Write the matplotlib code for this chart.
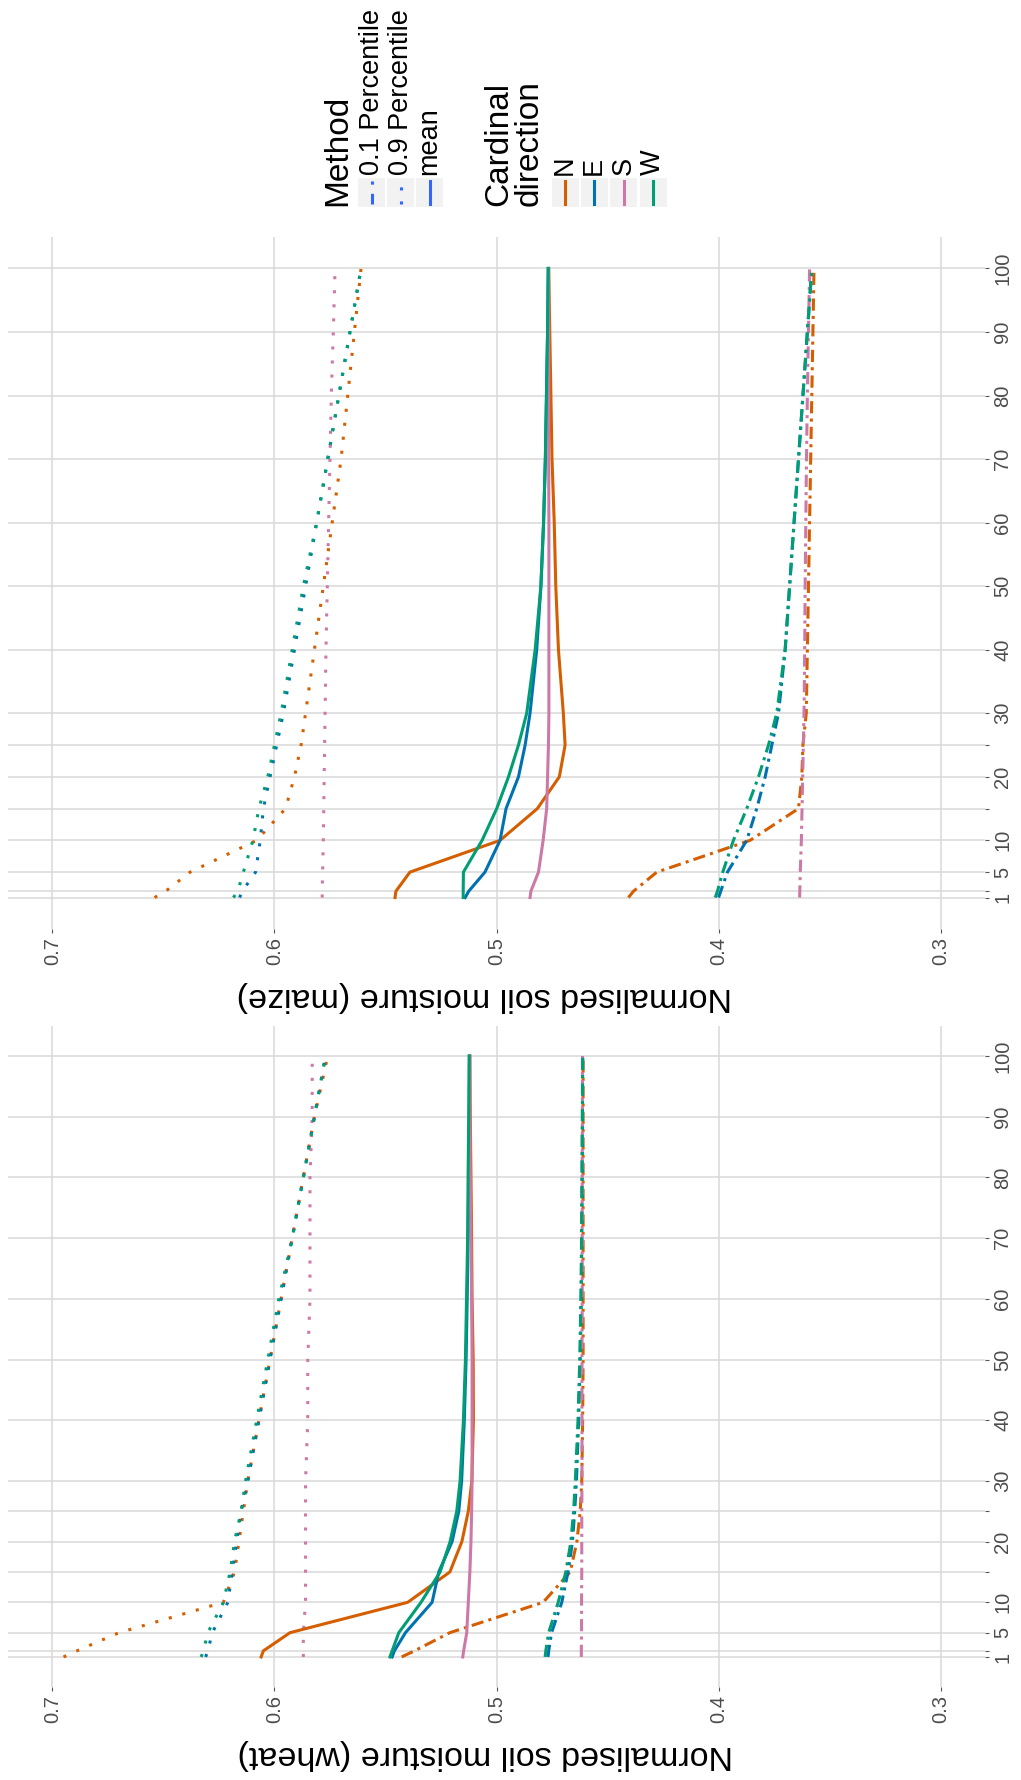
#!/usr/bin/env python3
# -*- coding: utf-8 -*-

import matplotlib.pyplot as plt
from matplotlib.lines import Line2D
from matplotlib.patches import Rectangle

# ============================
# General style
# ============================
plt.rcParams.update({
    "font.family": ["Liberation Sans", "DejaVu Sans"],
    "axes.spines.top": False,
    "axes.spines.right": False,
    "axes.spines.left": False,
    "axes.spines.bottom": False,
})

# ============================
# Data
# ============================
distance = [1, 2, 5, 10, 15, 20, 25, 30, 40, 50, 60, 70, 80, 90, 100]
distance_labels = ["1", "", "5", "10", "", "20", "", "30", "40", "50", "60", "70", "80", "90", "100"]
moisture_ticks = [0.3, 0.4, 0.5, 0.6, 0.7]

directions = ["N", "E", "S", "W"]
methods = ["0.1 Percentile", "0.9 Percentile", "mean"]

# wheat
wheat_p10_N = [0.5427, 0.537, 0.521, 0.479, 0.4668, 0.4638, 0.4623, 0.4616, 0.4612, 0.461, 0.461, 0.461, 0.461, 0.461, 0.461]
wheat_p10_E = [0.4768, 0.4765, 0.4752, 0.4706, 0.4678, 0.4658, 0.4648, 0.464, 0.463, 0.4623, 0.4618, 0.4616, 0.4614, 0.4613, 0.4612]
wheat_p10_S = [0.4618, 0.4618, 0.4617, 0.4617, 0.4616, 0.4616, 0.4616, 0.4615, 0.4615, 0.4615, 0.4614, 0.4614, 0.4614, 0.4613, 0.4613]
wheat_p10_W = [0.4781, 0.4778, 0.4765, 0.4722, 0.4688, 0.4665, 0.4653, 0.4645, 0.4633, 0.4625, 0.462, 0.4617, 0.4615, 0.4613, 0.4612]

wheat_p90_N = [0.695, 0.689, 0.670, 0.623, 0.618, 0.616, 0.614, 0.612, 0.607, 0.602, 0.597, 0.592, 0.587, 0.582, 0.576]
wheat_p90_E = [0.631, 0.630, 0.628, 0.621, 0.619, 0.617, 0.615, 0.612, 0.607, 0.602, 0.597, 0.592, 0.587, 0.582, 0.577]
wheat_p90_S = [0.587, 0.587, 0.587, 0.586, 0.586, 0.586, 0.586, 0.586, 0.585, 0.585, 0.584, 0.584, 0.584, 0.583, 0.583]
wheat_p90_W = [0.633, 0.632, 0.630, 0.623, 0.620, 0.618, 0.615, 0.613, 0.608, 0.603, 0.598, 0.592, 0.587, 0.582, 0.577]

wheat_mean_N = [0.606, 0.605, 0.593, 0.540, 0.521, 0.5156, 0.5127, 0.5111, 0.5104, 0.5105, 0.511, 0.5112, 0.5115, 0.5118, 0.512]
wheat_mean_E = [0.547, 0.546, 0.541, 0.529, 0.526, 0.520, 0.517, 0.5157, 0.5145, 0.5137, 0.5132, 0.5128, 0.5125, 0.5123, 0.5122]
wheat_mean_S = [0.5152, 0.5148, 0.5134, 0.5127, 0.512, 0.5115, 0.5112, 0.511, 0.511, 0.511, 0.5112, 0.5115, 0.5118, 0.512, 0.512]
wheat_mean_W = [0.548, 0.547, 0.544, 0.534, 0.5254, 0.5209, 0.5179, 0.5164, 0.5149, 0.514, 0.5135, 0.513, 0.5128, 0.5125, 0.5123]

# maize
maize_p10_N = [0.4406, 0.4383, 0.4278, 0.3858, 0.364, 0.3625, 0.362, 0.3605, 0.360, 0.3595, 0.359, 0.3585, 0.358, 0.3575, 0.357]
maize_p10_E = [0.400, 0.399, 0.396, 0.3873, 0.3828, 0.379, 0.376, 0.373, 0.370, 0.368, 0.366, 0.364, 0.362, 0.360, 0.358]
maize_p10_S = [0.3635, 0.3634, 0.3632, 0.3627, 0.3624, 0.3621, 0.3618, 0.3615, 0.3612, 0.361, 0.3607, 0.3604, 0.360, 0.3595, 0.359]
maize_p10_W = [0.4015, 0.4005, 0.3981, 0.3933, 0.3873, 0.382, 0.3775, 0.3738, 0.370, 0.368, 0.366, 0.364, 0.362, 0.360, 0.358]

maize_p90_N = [0.654, 0.649, 0.638, 0.608, 0.595, 0.591, 0.588, 0.586, 0.582, 0.578, 0.574, 0.570, 0.567, 0.564, 0.561]
maize_p90_E = [0.6157, 0.6145, 0.6085, 0.6064, 0.605, 0.602, 0.599, 0.596, 0.591, 0.586, 0.581, 0.576, 0.571, 0.566, 0.561]
maize_p90_S = [0.5785, 0.5785, 0.5783, 0.578, 0.5778, 0.5776, 0.5774, 0.5772, 0.5768, 0.5762, 0.5756, 0.575, 0.5744, 0.5735, 0.5727]
maize_p90_W = [0.6185, 0.6165, 0.614, 0.6097, 0.607, 0.603, 0.600, 0.597, 0.592, 0.587, 0.581, 0.576, 0.571, 0.566, 0.561]

maize_mean_N = [0.5457, 0.5453, 0.539, 0.4984, 0.4816, 0.4717, 0.4691, 0.4699, 0.4721, 0.4733, 0.474, 0.475, 0.4755, 0.476, 0.4765]
maize_mean_E = [0.5141, 0.5125, 0.5052, 0.4984, 0.4957, 0.4901, 0.4871, 0.4849, 0.4819, 0.480, 0.4788, 0.478, 0.4775, 0.477, 0.4767]
maize_mean_S = [0.4849, 0.4845, 0.4811, 0.479, 0.4774, 0.477, 0.4766, 0.4764, 0.4764, 0.4764, 0.4764, 0.4765, 0.4765, 0.4765, 0.4765]
maize_mean_W = [0.515, 0.515, 0.5149, 0.5065, 0.4999, 0.4946, 0.4901, 0.4864, 0.4826, 0.480, 0.4788, 0.478, 0.4775, 0.477, 0.4767]

wheat = {
    "0.1 Percentile": {"N": wheat_p10_N, "E": wheat_p10_E, "S": wheat_p10_S, "W": wheat_p10_W},
    "0.9 Percentile": {"N": wheat_p90_N, "E": wheat_p90_E, "S": wheat_p90_S, "W": wheat_p90_W},
    "mean": {"N": wheat_mean_N, "E": wheat_mean_E, "S": wheat_mean_S, "W": wheat_mean_W},
}
maize = {
    "0.1 Percentile": {"N": maize_p10_N, "E": maize_p10_E, "S": maize_p10_S, "W": maize_p10_W},
    "0.9 Percentile": {"N": maize_p90_N, "E": maize_p90_E, "S": maize_p90_S, "W": maize_p90_W},
    "mean": {"N": maize_mean_N, "E": maize_mean_E, "S": maize_mean_S, "W": maize_mean_W},
}

# ============================
# Styles
# ============================
colours = {"N": "#D55E00", "E": "#0072B2", "S": "#CC79A7", "W": "#009E73"}
linestyles = {
    "0.1 Percentile": (0, (4, 1.7, 1, 1.7)),
    "0.9 Percentile": (0, (1, 3.6)),
    "mean": "-",
}
LW = 2.2
GRID = "#D9D9D9"
TICK_TXT = "#4D4D4D"

W_PX, H_PX, DPI = 1021, 1780, 100
fig = plt.figure(figsize=(W_PX / DPI, H_PX / DPI), dpi=DPI)


def draw_panel(rect, data, label):
    ax = fig.add_axes(rect)
    for method in methods:
        for d in directions:
            ax.plot(data[method][d], distance, color=colours[d],
                    linestyle=linestyles[method], lw=LW)
    ax.set_xlim(0.72, 0.28)
    ax.set_ylim(-3.95, 104.95)
    ax.set_xticks(moisture_ticks)
    ax.set_xticklabels([f"{v:.1f}" for v in moisture_ticks], rotation=90,
                       fontsize=14.5, color=TICK_TXT)
    ax.set_yticks(distance)
    ax.set_yticklabels(distance_labels, rotation=90, va="center",
                       fontsize=14.5, color=TICK_TXT)
    ax.yaxis.tick_right()
    ax.tick_params(axis="both", length=3, width=0.8, color="#555555", pad=3)
    ax.grid(True, color=GRID, lw=1.1)
    ax.set_axisbelow(True)
    ax.set_xlabel(label, rotation=180, fontsize=24.5, labelpad=6)
    ax.xaxis.set_label_coords(0.488, -0.075 * 692 / rect[3] / H_PX)
    return ax


draw_panel([8 / W_PX, 1 - 929 / H_PX, 977 / W_PX, 692 / H_PX], maize,
           "Normalised soil moisture (maize)")
draw_panel([8 / W_PX, 1 - 1687 / H_PX, 977 / W_PX, 661 / H_PX], wheat,
           "Normalised soil moisture (wheat)")

# ============================
# Legend (rotated, drawn by hand)
# ============================
leg = fig.add_axes([0, 0, 1, 1])
leg.set_xlim(0, W_PX)
leg.set_ylim(H_PX, 0)
leg.axis("off")

KEY_TOP, KEY_BOT = 178, 207


def key(xc, colour, style):
    leg.add_patch(Rectangle((xc - 13.5, KEY_TOP), 27, KEY_BOT - KEY_TOP,
                            facecolor="#F2F2F2", edgecolor="none"))
    leg.add_line(Line2D([xc, xc], [KEY_BOT - 3, KEY_TOP + 3], color=colour,
                        linestyle=style, lw=LW))


key_styles = {
    "0.1 Percentile": (0, (3.5, 3)),
    "0.9 Percentile": (0, (1, 3.6)),
    "mean": "-",
}

leg.text(338, 206, "Method", rotation=90, ha="center", va="bottom", fontsize=24)
for xc, m in zip([371.5, 400.5, 429.5], methods):
    key(xc, "#3366FF", key_styles[m])
    leg.text(xc, 175, m, rotation=90, ha="center", va="bottom", fontsize=19.5)

leg.text(514, 206, "Cardinal\ndirection", rotation=90, ha="center", va="bottom",
         multialignment="left", fontsize=24, linespacing=0.95)
for xc, d in zip([565, 594, 623.5, 653], directions):
    key(xc, colours[d], "-")
    leg.text(xc, 175, d, rotation=90, ha="center", va="bottom", fontsize=19.5)

fig.savefig("out.png", dpi=DPI)
